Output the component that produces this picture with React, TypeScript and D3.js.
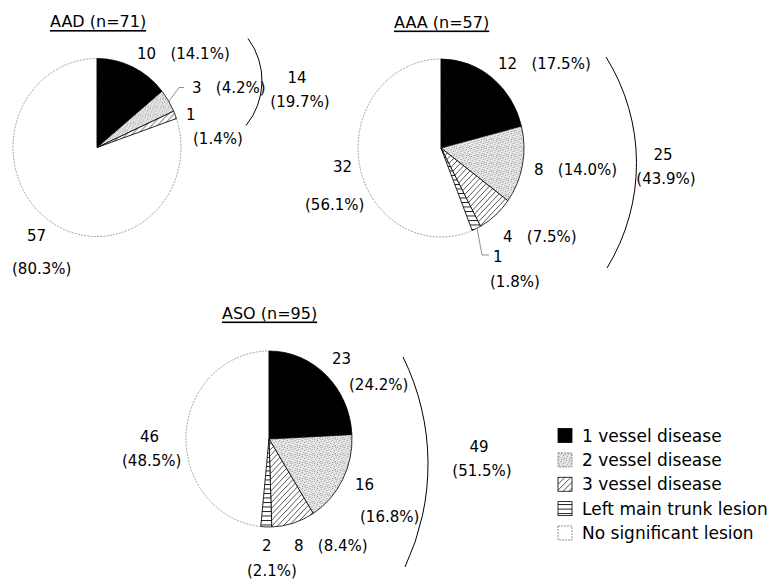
import * as d3 from 'd3';

const categories = ['1 vessel disease', '2 vessel disease', '3 vessel disease', 'Left main trunk lesion', 'No significant lesion'];
const groupNames = ['AAD', 'AAA', 'ASO'];

const aadCounts = [10, 3, 1, 0, 57];
const aaaCounts = [12, 8, 4, 1, 32];
const asoCounts = [23, 16, 8, 2, 46];

// percentages as printed in the figure
const aadPct = ['14.1%', '4.2%', '1.4%', '', '80.3%'];
const aaaPct = ['17.5%', '14.0%', '7.5%', '1.8%', '56.1%'];
const asoPct = ['24.2%', '16.8%', '8.4%', '2.1%', '48.5%'];
const lesionPct = ['19.7%', '43.9%', '51.5%'];

const fills = ['#000', 'url(#dots)', 'url(#diag)', 'url(#horiz)', '#fff'];
const font = '"DejaVu Sans", sans-serif';

// label layout, offsets from each pie centre
// kind: 'inline' => "n  (p)", 'count' => n, 'pct' => (p)
const layouts = [
  {
    cx: 97, cy: 147.5, rx: 84, ry: 89,
    labels: [
      { i: 0, kind: 'inline', dx: 40, dy: -94 },
      { i: 1, kind: 'inline', dx: 95, dy: -60 },
      { i: 2, kind: 'count', dx: 89, dy: -33 },
      { i: 2, kind: 'pct', dx: 96, dy: -9 },
      { i: 4, kind: 'count', dx: -70, dy: 88 },
      { i: 4, kind: 'pct', dx: -85, dy: 121 },
    ],
    leader: [[71, -45], [82, -60], [87, -60]],
    bracket: { top: [151, -109], bottom: [149, -22], sag: 15 },
    total: { dx: 200, dy: -70 },
  },
  {
    cx: 441, cy: 148, rx: 83, ry: 89,
    labels: [
      { i: 0, kind: 'inline', dx: 57, dy: -84 },
      { i: 1, kind: 'inline', dx: 93, dy: 22 },
      { i: 2, kind: 'inline', dx: 62, dy: 89 },
      { i: 3, kind: 'count', dx: 52, dy: 109 },
      { i: 3, kind: 'pct', dx: 49, dy: 134 },
      { i: 4, kind: 'count', dx: -108, dy: 19 },
      { i: 4, kind: 'pct', dx: -136, dy: 57 },
    ],
    leader: [[36, 80], [41, 107], [48, 107]],
    bracket: { top: [165, -91], bottom: [166, 120], sag: 30 },
    total: { dx: 222, dy: 7 },
  },
  {
    cx: 269, cy: 439, rx: 83, ry: 88,
    labels: [
      { i: 0, kind: 'count', dx: 63, dy: -80 },
      { i: 0, kind: 'pct', dx: 80, dy: -54 },
      { i: 1, kind: 'count', dx: 86, dy: 46 },
      { i: 1, kind: 'pct', dx: 91, dy: 78 },
      { i: 2, kind: 'inline', dx: 25, dy: 107 },
      { i: 3, kind: 'count', dx: -7, dy: 107 },
      { i: 3, kind: 'pct', dx: -22, dy: 132 },
      { i: 4, kind: 'count', dx: -129, dy: -2 },
      { i: 4, kind: 'pct', dx: -147, dy: 22 },
    ],
    leader: null,
    bracket: { top: [134, -82], bottom: [136, 128], sag: 24 },
    total: { dx: 210, dy: 8 },
  },
];

const countsList = [aadCounts, aaaCounts, asoCounts];
const pctList = [aadPct, aaaPct, asoPct];

const pie = d3.pie<number>().sort(null).value((d) => d);

const Pie = ({ g }: { g: number }) => {
  const L = layouts[g];
  const counts = countsList[g];
  const pcts = pctList[g];
  const n = d3.sum(counts);
  const arcs = pie(counts);
  const arcGen = d3.arc<d3.PieArcDatum<number>>().innerRadius(0).outerRadius(L.ry);
  const diseased = n - counts[4];

  const labelText = (kind: string, i: number) => {
    if (kind === 'count') return `${counts[i]}`;
    if (kind === 'pct') return `(${pcts[i]})`;
    return `${counts[i]}   (${pcts[i]})`;
  };

  const b = L.bracket;
  const chord = Math.hypot(b.bottom[0] - b.top[0], b.bottom[1] - b.top[1]);
  const br = (chord * chord / 4 + b.sag * b.sag) / (2 * b.sag);

  const line = d3.line();

  return (
    <g transform={`translate(${L.cx},${L.cy})`}>
      <text
        x={-47}
        y={-126}
        fontSize={16}
        fontFamily={font}
        dominantBaseline="central"
        textDecoration="underline"
        style={{ whiteSpace: 'pre' }}
      >
        {`${groupNames[g]} (n=${n})`}
      </text>

      <g transform={`scale(${L.rx / L.ry},1)`}>
        {/* white slice first, then patterned slices on top */}
        {[4, 0, 1, 2, 3].map((i) => {
          const a = arcs[i];
          if (a.value === 0) return null;
          return (
            <path
              key={i}
              d={arcGen(a) || ''}
              fill={fills[i]}
              stroke={i === 4 ? '#8a8a8a' : '#000'}
              strokeWidth={0.8}
              strokeDasharray={i === 4 ? '2 1.2' : undefined}
              vectorEffect="non-scaling-stroke"
            />
          );
        })}
      </g>

      {L.leader && (
        <path d={line(L.leader as [number, number][]) || ''} fill="none" stroke="#777" strokeWidth={0.8} />
      )}

      {L.labels.map((lb, k) => (
        <text
          key={k}
          x={lb.dx}
          y={lb.dy}
          fontSize={15}
          fontFamily={font}
          dominantBaseline="central"
          style={{ whiteSpace: 'pre' }}
        >
          {labelText(lb.kind, lb.i)}
        </text>
      ))}

      <path
        d={`M${b.top[0]},${b.top[1]} A${br},${br} 0 0 1 ${b.bottom[0]},${b.bottom[1]}`}
        fill="none"
        stroke="#000"
        strokeWidth={1}
      />
      <text x={L.total.dx} y={L.total.dy} fontSize={15} fontFamily={font} textAnchor="middle" dominantBaseline="central">
        {diseased}
      </text>
      <text x={L.total.dx + 3} y={L.total.dy + 24} fontSize={15} fontFamily={font} textAnchor="middle" dominantBaseline="central">
        {`(${lesionPct[g]})`}
      </text>
    </g>
  );
};

const Legend = () => {
  const y = d3.scalePoint<string>().domain(categories).range([435.5, 533]);
  return (
    <g>
      {categories.map((c, i) => (
        <g key={c} transform={`translate(558,${y(c)})`}>
          <rect
            x={0}
            y={-7}
            width={14}
            height={14}
            fill={fills[i]}
            stroke={i === 4 || i === 1 ? '#777' : '#000'}
            strokeWidth={0.8}
            strokeDasharray={i === 4 || i === 1 ? '2 1' : undefined}
          />
          <text x={24} y={0} fontSize={17} fontFamily={font} dominantBaseline="central">
            {c}
          </text>
        </g>
      ))}
    </g>
  );
};

// scattered stipple dots for the "2 vessel" fill
const stipple = [
  [0, 0, '#888'], [3, 1, '#999'], [5, 3, '#8c8c8c'], [1, 4, '#999'],
  [4, 5, '#aaa'], [2, 2, '#b4b4b4'], [6, 6, '#909090'], [0, 6, '#aaa'],
  [7, 2, '#a0a0a0'], [3, 7, '#8e8e8e'], [6, 0, '#b0b0b0'], [5, 7, '#b8b8b8'],
];

export default function App() {
  return (
    <svg width={770} height={586} style={{ position: 'absolute', left: 0, top: 0, background: '#fff' }}>
      <defs>
        <pattern id="dots" width={8} height={8} patternUnits="userSpaceOnUse">
          <rect width={8} height={8} fill="#e6e6e6" />
          {stipple.map(([x, y, c], k) => (
            <rect key={k} x={x as number} y={y as number} width={1} height={1} fill={c as string} />
          ))}
        </pattern>
        <pattern id="diag" width={6} height={6} patternUnits="userSpaceOnUse">
          <rect width={6} height={6} fill="#fff" />
          <path d="M0,6 L6,0 M-1,1 L1,-1 M5,7 L7,5" stroke="#000" strokeWidth={0.7} />
        </pattern>
        <pattern id="horiz" width={6} height={4.5} patternUnits="userSpaceOnUse">
          <rect width={6} height={4.5} fill="#fff" />
          <path d="M0,0.5 L6,0.5" stroke="#000" strokeWidth={0.9} />
        </pattern>
      </defs>
      {groupNames.map((_, g) => (
        <Pie key={g} g={g} />
      ))}
      <Legend />
    </svg>
  );
}
